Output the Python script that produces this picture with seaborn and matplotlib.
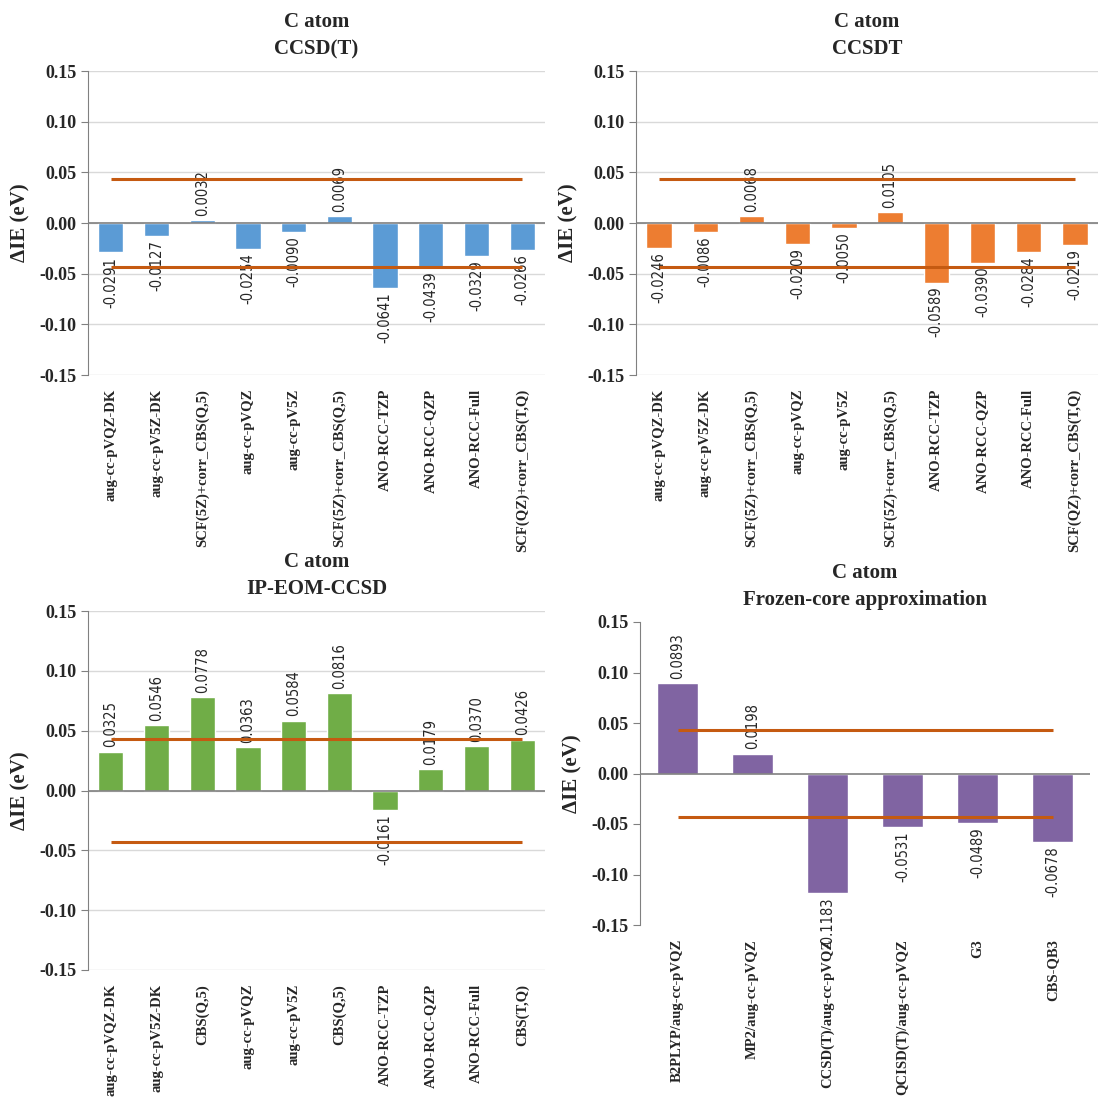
import numpy as np
import matplotlib
matplotlib.use("Agg")
import matplotlib.pyplot as plt
import seaborn as sns

sns.set_style("white")
plt.rcParams["font.family"] = ["Liberation Serif", "DejaVu Serif"]

# Data
basis_ccsd = ["aug-cc-pVQZ-DK", "aug-cc-pV5Z-DK", "SCF(5Z)+corr_CBS(Q,5)", "aug-cc-pVQZ",
              "aug-cc-pV5Z", "SCF(5Z)+corr_CBS(Q,5)", "ANO-RCC-TZP", "ANO-RCC-QZP",
              "ANO-RCC-Full", "SCF(QZ)+corr_CBS(T,Q)"]
ccsd_t = [-0.0291, -0.0127, 0.0032, -0.0254, -0.0090, 0.0069, -0.0641, -0.0439, -0.0329, -0.0266]
ccsdt = [-0.0246, -0.0086, 0.0068, -0.0209, -0.0050, 0.0105, -0.0589, -0.0390, -0.0284, -0.0219]

basis_eom = ["aug-cc-pVQZ-DK", "aug-cc-pV5Z-DK", "CBS(Q,5)", "aug-cc-pVQZ", "aug-cc-pV5Z",
             "CBS(Q,5)", "ANO-RCC-TZP", "ANO-RCC-QZP", "ANO-RCC-Full", "CBS(T,Q)"]
ip_eom = [0.0325, 0.0546, 0.0778, 0.0363, 0.0584, 0.0816, -0.0161, 0.0179, 0.0370, 0.0426]

methods_fc = ["B2PLYP/aug-cc-pVQZ", "MP2/aug-cc-pVQZ", "CCSD(T)/aug-cc-pVQZ",
              "QCISD(T)/aug-cc-pVQZ", "G3", "CBS-QB3"]
frozen_core = [0.0893, 0.0198, -0.1183, -0.0531, -0.0489, -0.0678]

chem_acc = 0.0434  # 1 kcal/mol in eV

fig = plt.figure(figsize=(11.07, 11.06), dpi=100)
W, H = 1107, 1106


def panel(box, cats, vals, color, title, grid=True):
    x0, y0, x1, y1 = box
    ax = fig.add_axes([x0 / W, 1 - y1 / H, (x1 - x0) / W, (y1 - y0) / H])
    n = len(cats)
    sns.barplot(x=np.arange(n), y=vals, color=color, width=0.55, saturation=1, ax=ax)
    ax.bar_label(ax.containers[0], labels=[f"{v:.4f}" for v in vals], rotation=90,
                 padding=3, fontsize=10.5, family="DejaVu Sans", fontstretch="condensed")
    ax.hlines([chem_acc, -chem_acc], 0, n - 1, color="#C55A11", lw=2.2, zorder=4)
    ax.axhline(0, color="#808080", lw=1.2, zorder=3)
    ax.set_xlim(-0.5, n - 0.5)
    ax.set_ylim(-0.15, 0.15)
    ticks = np.arange(-0.15, 0.151, 0.05)
    ax.set_yticks(ticks)
    ax.set_yticklabels([f"{t:.2f}" for t in ticks], fontsize=13, fontweight="bold")
    ax.set_xticks(np.arange(n))
    ax.set_xticklabels(cats, rotation=90, fontsize=10.5, fontweight="bold", va="top")
    ax.tick_params(axis="x", length=0, pad=10)
    ax.tick_params(axis="y", length=5, color="#808080", direction="out", left=True)
    if grid:
        ax.yaxis.grid(True, color="#D9D9D9", lw=1)
        ax.set_axisbelow(True)
    for s in ["top", "right", "bottom"]:
        ax.spines[s].set_visible(False)
    ax.spines["left"].set_color("#808080")
    ax.set_ylabel("ΔIE (eV)", fontsize=15, fontweight="bold", labelpad=6)
    ax.set_xlabel("")
    ax.set_title(title, fontsize=15, fontweight="bold", pad=12, linespacing=1.5)
    return ax


panel((88, 71, 545, 375), basis_ccsd, ccsd_t, "#5B9BD5", "C atom\nCCSD(T)")
panel((636, 71, 1098, 375), basis_ccsd, ccsdt, "#ED7D31", "C atom\nCCSDT")
panel((88, 611, 545, 970), basis_eom, ip_eom, "#70AD47", "C atom\nIP-EOM-CCSD")
panel((640, 622, 1090, 925), methods_fc, frozen_core, "#8064A2",
      "C atom\nFrozen-core approximation", grid=False)

fig.savefig("out.png", dpi=100, facecolor="white")
